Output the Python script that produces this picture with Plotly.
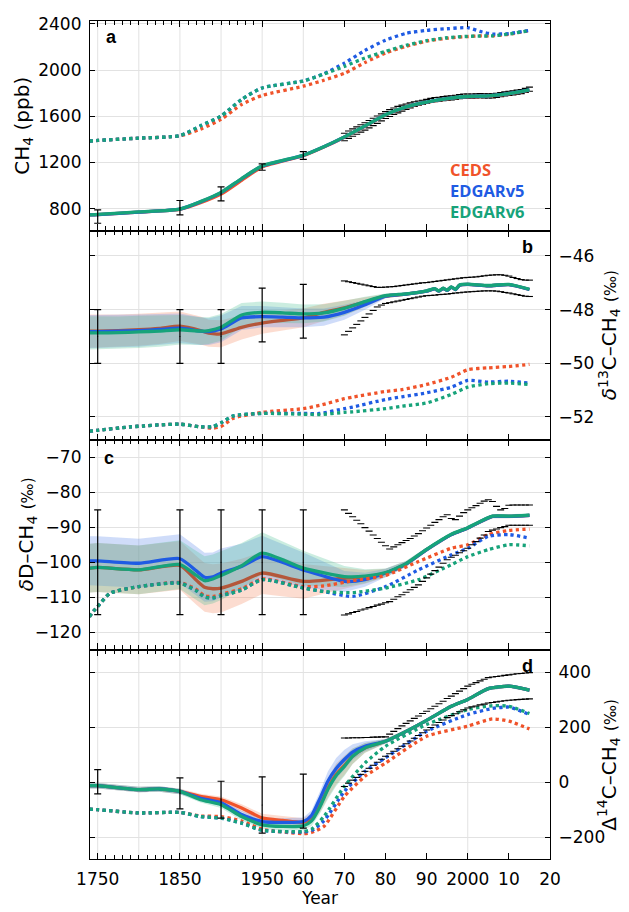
import numpy as np
import plotly.graph_objects as go
from plotly.subplots import make_subplots

# ---------------- data ----------------
TICK_YEARS = [1750, 1850, 1950, 1960, 1970, 1980, 1990, 2000, 2010, 2020]
TICK_TEXT = ["1750", "1850", "1950", "60", "70", "80", "90", "2000", "10", "20"]
MINOR_YEARS = [1760, 1770, 1780, 1790, 1800, 1810, 1820, 1830, 1840, 1860, 1870,
               1880, 1890, 1900, 1910, 1920, 1930, 1940]
VGRID_YEARS = [1750, 1800, 1850, 1900, 1950, 1960, 2000]

OBS_YRS = list(range(1970, 2016))
ERR_YRS = [1750, 1850, 1900, 1950, 1960]

# panel a : CH4 (ppb)
A_YRS = [1740, 1750, 1800, 1850, 1875, 1900, 1925, 1950, 1960, 1965, 1970, 1975,
         1980, 1985, 1990, 1995, 2000, 2005, 2010, 2015]
A_CEDS = [745, 748, 770, 793, 850, 925, 1045, 1160, 1258, 1333, 1418, 1513, 1610,
          1678, 1720, 1750, 1768, 1774, 1793, 1826]
A_V5 = [745, 748, 770, 795, 858, 938, 1058, 1168, 1261, 1335, 1420, 1515, 1612,
        1680, 1722, 1752, 1770, 1776, 1795, 1828]
A_V6 = [746, 749, 771, 796, 860, 940, 1060, 1170, 1262, 1336, 1421, 1516, 1613,
        1681, 1723, 1753, 1771, 1777, 1796, 1829]
A_DOT_YRS = [1740, 1750, 1800, 1850, 1875, 1900, 1925, 1950, 1960, 1965, 1970, 1975,
             1980, 1985, 1990, 1995, 2000, 2003, 2006, 2010, 2015]
A_DOT_CEDS = [1385, 1390, 1410, 1430, 1488, 1573, 1702, 1780, 1860, 1912, 1972, 2065,
              2148, 2205, 2250, 2276, 2290, 2296, 2296, 2310, 2342]
A_DOT_V5 = [1385, 1390, 1410, 1432, 1517, 1602, 1745, 1845, 1905, 1968, 2060, 2170,
            2259, 2318, 2344, 2358, 2367, 2335, 2312, 2316, 2344]
A_DOT_V6 = [1385, 1390, 1410, 1432, 1517, 1602, 1745, 1845, 1905, 1965, 2032, 2105,
            2162, 2215, 2255, 2280, 2292, 2295, 2296, 2312, 2342]
A_ERR_VAL = [731, 808, 927, 1160, 1260]
A_ERR_SIG = [58, 62, 61, 28, 34]
A_OBS = [1420, 1440, 1458, 1476, 1494, 1512, 1531, 1551, 1570, 1590,
         1610, 1627, 1643, 1657, 1670, 1682, 1694, 1705, 1714, 1721,
         1728, 1737, 1744, 1746, 1752, 1756, 1760, 1764, 1770, 1774,
         1774, 1775, 1776, 1778, 1777, 1776, 1776, 1781, 1787, 1793,
         1799, 1803, 1808, 1814, 1823, 1834]
A_OBS_UNC = [32, 32, 32, 32, 32, 32, 32, 32, 32, 30,
             30, 30, 28, 28, 26, 24, 22, 20, 18, 18,
             18, 18, 18, 18, 18, 18, 18, 18, 18, 18,
             18, 18, 18, 18, 18, 18, 18, 18, 18, 18,
             18, 18, 18, 18, 18, 18]

# panel b : d13C-CH4 (permil)
B_YRS = [1740, 1750, 1775, 1800, 1825, 1850, 1875, 1885, 1900, 1925, 1950, 1955, 1960,
         1965, 1970, 1975, 1980, 1985, 1990, 1992, 1993, 1994, 1995, 1996, 1997, 1998,
         2000, 2005, 2010, 2015]
B_V6 = [-48.87, -48.87, -48.86, -48.83, -48.80, -48.75, -48.80, -48.78, -48.66, -48.20,
        -48.10, -48.12, -48.16, -48.12, -47.95, -47.70, -47.48, -47.41, -47.30, -47.22,
        -47.30, -47.20, -47.27, -47.15, -47.24, -47.08, -47.05, -47.10, -47.06, -47.24]
B_V5 = [-48.82, -48.82, -48.80, -48.78, -48.74, -48.69, -48.80, -48.82, -48.72, -48.31,
        -48.26, -48.28, -48.31, -48.28, -48.10, -47.82, -47.50, -47.42, -47.31, -47.23,
        -47.31, -47.21, -47.28, -47.16, -47.25, -47.09, -47.06, -47.11, -47.07, -47.25]
B_CEDS = [-48.80, -48.80, -48.78, -48.75, -48.70, -48.62, -48.78, -48.88, -48.90, -48.66,
          -48.50, -48.40, -48.31, -48.10, -47.93, -47.72, -47.50, -47.42, -47.31, -47.23,
          -47.31, -47.21, -47.28, -47.16, -47.25, -47.09, -47.06, -47.11, -47.07, -47.25]
B_HW = [0.62, 0.62, 0.60, 0.60, 0.58, 0.55, 0.52, 0.50, 0.50, 0.45, 0.40, 0.38, 0.35,
        0.32, 0.28, 0.18, 0.08, 0.05, 0.04, 0.04, 0.04, 0.04, 0.04, 0.04, 0.04, 0.04,
        0.04, 0.04, 0.04, 0.04]
B_DOT_YRS = [1740, 1750, 1790, 1850, 1875, 1890, 1900, 1915, 1950, 1960, 1964, 1970,
             1972, 1980, 1984, 1990, 1996, 2000, 2005, 2010, 2015]
B_DOT_V6 = [-52.53, -52.50, -52.37, -52.27, -52.37, -52.36, -52.22, -51.96, -51.87,
            -51.90, -51.91, -51.83, -51.81, -51.69, -51.60, -51.48, -51.16, -50.89,
            -50.76, -50.74, -50.79]
B_DOT_V5 = [-52.53, -52.50, -52.37, -52.27, -52.37, -52.36, -52.22, -51.96, -51.87,
            -51.87, -51.87, -51.69, -51.63, -51.35, -51.25, -51.10, -50.89, -50.64,
            -50.70, -50.67, -50.74]
B_DOT_CEDS = [-52.53, -52.50, -52.37, -52.27, -52.37, -52.42, -52.36, -52.05, -51.83,
              -51.69, -51.57, -51.32, -51.26, -51.05, -50.98, -50.79, -50.52, -50.24,
              -50.17, -50.12, -50.04]
B_ERR_VAL = [-49.0, -49.0, -49.0, -48.2, -48.06]
B_ERR_SIG = [1.0, 1.0, 1.0, 1.0, 1.0]
B_OBS_HI = [-46.93, -46.96, -46.99, -47.02, -47.05, -47.08, -47.11, -47.14, -47.17, -47.17,
            -47.16, -47.15, -47.14, -47.12, -47.10, -47.08, -47.06, -47.04, -47.02, -47.00,
            -46.99, -46.97, -46.95, -46.93, -46.91, -46.89, -46.87, -46.85, -46.83, -46.81,
            -46.80, -46.79, -46.78, -46.76, -46.74, -46.72, -46.71, -46.70, -46.70, -46.72,
            -46.75, -46.80, -46.84, -46.88, -46.90, -46.90]
B_OBS_LO = [-48.94, -48.81, -48.68, -48.55, -48.42, -48.29, -48.16, -48.03, -47.90, -47.83,
            -47.77, -47.74, -47.71, -47.68, -47.65, -47.62, -47.59, -47.56, -47.53, -47.50,
            -47.48, -47.47, -47.46, -47.44, -47.43, -47.42, -47.40, -47.38, -47.37, -47.35,
            -47.34, -47.33, -47.32, -47.31, -47.30, -47.30, -47.30, -47.31, -47.33, -47.36,
            -47.38, -47.41, -47.44, -47.47, -47.50, -47.51]

# panel c : dD-CH4 (permil)
C_YRS = [1740, 1750, 1800, 1850, 1870, 1880, 1890, 1900, 1925, 1950, 1960, 1970, 1975,
         1980, 1985, 1990, 1996, 2000, 2006, 2010, 2015]
C_V5 = [-99.6, -99.6, -100.3, -99.0, -102.5, -104.3, -104.2, -103.1, -101.2, -98.4,
        -102.2, -105.5, -105.0, -103.1, -100.5, -96.4, -92.1, -90.2, -86.9, -86.9, -86.6]
C_V6 = [-101.7, -101.5, -102.2, -100.7, -103.8, -105.3, -104.8, -103.8, -101.0, -97.4,
        -101.7, -104.1, -104.0, -103.0, -100.4, -96.3, -92.0, -90.1, -86.8, -86.8, -86.5]
C_CEDS = [-101.7, -101.5, -102.2, -100.9, -105.2, -107.2, -107.6, -107.4, -105.5, -103.1,
          -105.5, -104.6, -104.2, -103.1, -100.5, -96.4, -92.1, -90.2, -86.9, -86.9, -86.6]
C_HW = [7.0, 7.0, 7.0, 7.0, 7.0, 7.0, 7.0, 7.0, 6.5, 6.0, 5.0, 3.0, 2.0, 1.2, 0.8, 0.6,
        0.5, 0.5, 0.5, 0.5, 0.5]
C_DOT_YRS = [1740, 1745, 1750, 1765, 1800, 1850, 1870, 1880, 1890, 1900, 1925, 1950,
             1960, 1965, 1972, 1980, 1988, 1996, 2000, 2005, 2010, 2015]
C_DOT_V5 = [-115.6, -114.0, -112.7, -108.9, -107.0, -106.0, -108.2, -110.0, -110.2,
            -109.6, -108.0, -105.0, -107.4, -108.4, -109.8, -107.0, -102.2, -97.9, -96.0,
            -92.6, -92.1, -93.1]
C_DOT_V6 = [-115.6, -114.0, -112.7, -108.9, -107.0, -106.0, -108.2, -110.0, -110.2,
            -109.6, -108.0, -105.0, -107.4, -108.4, -108.7, -107.4, -105.0, -100.7, -98.4,
            -96.4, -95.0, -95.3]
C_DOT_CEDS = [-115.6, -114.0, -112.7, -108.9, -107.0, -105.8, -107.8, -109.6, -109.8,
              -109.2, -107.6, -104.8, -107.0, -106.8, -105.3, -103.8, -99.8, -96.0, -95.0,
              -92.1, -90.9, -90.5]
C_ERR_VAL = [-100, -100, -100, -100, -100]
C_ERR_SIG = [15, 15, 15, 15, 15]
C_OBS_HI = [-85.0, -86.0, -87.0, -88.0, -89.0, -90.1, -91.1, -92.2, -93.2, -94.3,
            -95.3, -96.2, -95.6, -95.0, -94.4, -93.8, -93.2, -92.5, -91.8, -91.0,
            -90.2, -89.4, -88.6, -87.8, -87.0, -86.4, -87.5, -87.8, -86.8, -85.8,
            -85.0, -84.4, -83.8, -83.1, -82.5, -82.1, -82.6, -84.0, -85.0, -84.6,
            -83.7, -83.6, -83.6, -83.6, -83.6, -83.6]
C_OBS_LO = [-115.1, -114.8, -114.4, -114.1, -113.7, -113.4, -113.0, -112.7, -112.3, -112.0,
            -111.6, -111.3, -110.6, -109.9, -109.3, -108.6, -107.9, -107.2, -106.5, -105.5,
            -104.5, -103.4, -102.4, -101.4, -100.3, -99.3, -98.6, -98.0, -97.3, -96.7,
            -96.0, -95.0, -94.1, -93.1, -92.2, -91.2, -90.8, -90.5, -90.1, -89.8,
            -89.4, -89.4, -89.4, -89.4, -89.4, -89.4]

# panel d : D14C-CH4 (permil)
D_YRS = [1740, 1750, 1800, 1825, 1850, 1875, 1900, 1925, 1950, 1955, 1960, 1962, 1964,
         1966, 1968, 1970, 1972, 1975, 1980, 1985, 1990, 1996, 2000, 2005, 2010, 2015]
D_V6 = [-12, -12, -26, -24, -33, -63, -81, -124, -154, -160, -158, -140, -90, -25, 25,
        58, 95, 125, 149, 185, 225, 276, 301, 340, 349, 335]
D_V5 = [-12, -12, -26, -24, -33, -58, -74, -117, -142, -145, -142, -120, -60, 5, 50,
        83, 110, 131, 149, 185, 225, 276, 301, 340, 349, 335]
D_CEDS = [-12, -12, -26, -24, -33, -51, -63, -93, -129, -138, -145, -130, -85, -20, 30,
          62, 95, 125, 149, 185, 225, 276, 301, 340, 349, 335]
D_HW = [10, 10, 10, 10, 10, 10, 12, 14, 15, 15, 15, 18, 25, 35, 38, 35, 28, 18, 8, 7,
        6, 6, 6, 6, 6, 6]
D_DOT_YRS = [1740, 1750, 1800, 1850, 1875, 1900, 1925, 1950, 1960, 1962, 1965, 1970,
             1975, 1980, 1990, 2000, 2006, 2010, 2015]
D_DOT_V6 = [-97, -99, -111, -109, -124, -130, -148, -174, -178, -170, -124, -14, 70,
            131, 210, 264, 278, 276, 250]
D_DOT_V5 = [-97, -99, -111, -109, -124, -130, -148, -174, -180, -175, -140, -33, 40, 89,
            185, 246, 268, 273, 246]
D_DOT_CEDS = [-97, -99, -111, -109, -122, -124, -140, -170, -186, -182, -160, -51, 22,
              70, 167, 204, 230, 222, 194]
D_ERR_VAL = [2, -40, -63, -82, -68]
D_ERR_SIG = [44, 56, 67, 102, 98]
D_OBS_HI = [161, 161, 162, 162, 162, 163, 163, 164, 164, 165,
            165, 175, 185, 195, 205, 214, 223, 232, 241, 250,
            258, 267, 276, 285, 294, 304, 313, 322, 331, 340,
            349, 356, 362, 368, 374, 380, 382, 384, 386, 388,
            390, 392, 394, 395, 397, 398]
D_OBS_LO = [-15, -3, 8, 18, 29, 40, 51, 62, 73, 84,
            95, 104, 113, 122, 131, 140, 150, 160, 170, 180,
            190, 199, 208, 217, 226, 235, 242, 249, 256, 263,
            270, 274, 277, 281, 284, 288, 290, 292, 294, 296,
            298, 299, 300, 301, 302, 303]

# ---------------- styling ----------------
COL_CEDS = "#F0532A"
COL_CEDS_SOLID = "#B4573B"
COL_V5 = "#1F5BE3"
COL_V6 = "#17A37A"
BAND_CEDS = "rgba(245,140,100,0.30)"
BAND_V5 = "rgba(95,140,235,0.30)"
BAND_V6 = "rgba(70,190,145,0.28)"
GRID = "#E2E2E2"
FONT = "DejaVu Sans"
TICK_SIZE = 17
TITLE_SIZE = 20

# page body has an 8px default margin; the figure is sized so that the plot
# area lands on the reference's pixels (x 90-550, y 21-859)
FIG_W, FIG_H = 621, 904
M_L, M_R, M_T, M_B = 82, 79, 13, 53


def tx(years):
    y = np.asarray(years, dtype=float)
    return np.where(y < 1950, (y - 1950.0) / 5.0, y - 1950.0)


fig = make_subplots(rows=4, cols=1, shared_xaxes=True, vertical_spacing=0)


def band(row, yrs, vals, hw, color):
    x = tx(yrs)
    v = np.asarray(vals, float)
    h = np.asarray(hw, float)
    fig.add_trace(go.Scatter(x=np.concatenate([x, x[::-1]]),
                             y=np.concatenate([v + h, (v - h)[::-1]]),
                             fill="toself", fillcolor=color, mode="lines",
                             line=dict(width=0), hoverinfo="skip", showlegend=False),
                  row=row, col=1)


def line(row, yrs, vals, color, dash="solid", width=3.3):
    fig.add_trace(go.Scatter(x=tx(yrs), y=vals, mode="lines",
                             line=dict(color=color, width=width, dash=dash, shape="spline",
                                       smoothing=0.6),
                             showlegend=False), row=row, col=1)


def errbars(row, vals, sig):
    fig.add_trace(go.Scatter(x=tx(ERR_YRS), y=vals, mode="markers",
                             marker=dict(size=1, color="black"),
                             error_y=dict(type="data", array=sig, color="black",
                                          thickness=1.2, width=3.5),
                             showlegend=False), row=row, col=1)


def dashes(row, vals):
    fig.add_trace(go.Scatter(x=tx(OBS_YRS), y=vals, mode="markers",
                             marker=dict(symbol="line-ew", size=5, color="black",
                                         line=dict(color="black", width=1.1)),
                             showlegend=False), row=row, col=1)


# panel a
line(1, A_DOT_YRS, A_DOT_CEDS, COL_CEDS, "dot")
line(1, A_DOT_YRS, A_DOT_V5, COL_V5, "dot")
line(1, A_DOT_YRS, A_DOT_V6, COL_V6, "dot")
dashes(1, list(np.add(A_OBS, A_OBS_UNC)))
dashes(1, list(np.subtract(A_OBS, A_OBS_UNC)))
line(1, A_YRS, A_CEDS, COL_CEDS)
line(1, A_YRS, A_V5, COL_V5)
line(1, A_YRS, A_V6, COL_V6)
errbars(1, A_ERR_VAL, A_ERR_SIG)

# panel b
band(2, B_YRS, B_CEDS, B_HW, BAND_CEDS)
band(2, B_YRS, B_V5, B_HW, BAND_V5)
band(2, B_YRS, B_V6, B_HW, BAND_V6)
line(2, B_DOT_YRS, B_DOT_CEDS, COL_CEDS, "dot")
line(2, B_DOT_YRS, B_DOT_V5, COL_V5, "dot")
line(2, B_DOT_YRS, B_DOT_V6, COL_V6, "dot")
line(2, B_YRS, B_CEDS, COL_CEDS_SOLID)
line(2, B_YRS, B_V5, COL_V5)
line(2, B_YRS, B_V6, COL_V6)
dashes(2, B_OBS_HI)
dashes(2, B_OBS_LO)
errbars(2, B_ERR_VAL, B_ERR_SIG)

# panel c
band(3, C_YRS, C_CEDS, C_HW, BAND_CEDS)
band(3, C_YRS, C_V5, C_HW, BAND_V5)
band(3, C_YRS, C_V6, C_HW, BAND_V6)
line(3, C_YRS, C_CEDS, COL_CEDS_SOLID)
line(3, C_YRS, C_V5, COL_V5)
line(3, C_YRS, C_V6, COL_V6)
line(3, C_DOT_YRS, C_DOT_CEDS, COL_CEDS, "dot")
line(3, C_DOT_YRS, C_DOT_V5, COL_V5, "dot")
line(3, C_DOT_YRS, C_DOT_V6, COL_V6, "dot")
dashes(3, C_OBS_HI)
dashes(3, C_OBS_LO)
errbars(3, C_ERR_VAL, C_ERR_SIG)

# panel d
band(4, D_YRS, D_CEDS, D_HW, BAND_CEDS)
band(4, D_YRS, D_V5, D_HW, BAND_V5)
band(4, D_YRS, D_V6, D_HW, BAND_V6)
line(4, D_DOT_YRS, D_DOT_CEDS, COL_CEDS, "dot")
line(4, D_DOT_YRS, D_DOT_V5, COL_V5, "dot")
line(4, D_DOT_YRS, D_DOT_V6, COL_V6, "dot")
line(4, D_YRS, D_CEDS, COL_CEDS)
line(4, D_YRS, D_V5, COL_V5)
line(4, D_YRS, D_V6, COL_V6)
dashes(4, D_OBS_HI)
dashes(4, D_OBS_LO)
errbars(4, D_ERR_VAL, D_ERR_SIG)

# ---------------- axes ----------------
xcommon = dict(range=[-41.87, 70], tickvals=list(tx(TICK_YEARS)), ticktext=TICK_TEXT,
               ticks="inside", ticklen=6, tickwidth=1, tickcolor="black",
               showline=True, linecolor="black", linewidth=1.2, mirror="ticks",
               showgrid=False, zeroline=False, automargin=False,
               minor=dict(tickvals=list(tx(MINOR_YEARS)), ticks="inside", ticklen=4,
                          tickcolor="black", tickwidth=1, showgrid=False),
               tickfont=dict(family=FONT, size=TICK_SIZE, color="black"))
for i in range(1, 5):
    fig.update_xaxes(xcommon, row=i, col=1)
fig.update_xaxes(showticklabels=True, row=4, col=1, ticklabelstandoff=4,
                 title=dict(text="Year", font=dict(family=FONT, size=TICK_SIZE, color="black"),
                            standoff=1))

ycommon = dict(ticks="inside", ticklen=5, tickwidth=1, tickcolor="black",
               showline=True, linecolor="black", linewidth=1.2, mirror="ticks",
               showgrid=True, gridcolor=GRID, gridwidth=1, zeroline=False,
               automargin=False,
               tickfont=dict(family=FONT, size=TICK_SIZE, color="black"), ticklabelstandoff=4)
fig.update_yaxes(ycommon, row=1, col=1, range=[610, 2425],
                 tickvals=[800, 1200, 1600, 2000, 2400], side="left")
fig.update_yaxes(ycommon, row=2, col=1, range=[-52.86, -45.05],
                 tickvals=[-52, -50, -48, -46], side="right")
fig.update_yaxes(ycommon, row=3, col=1, range=[-125, -65],
                 tickvals=[-120, -110, -100, -90, -80, -70], side="left")
fig.update_yaxes(ycommon, row=4, col=1, range=[-278, 482],
                 tickvals=[-200, 0, 200, 400], side="right")

# vertical grid lines
shapes = []
for i, yname in enumerate(["y", "y2", "y3", "y4"]):
    xname = "x" if i == 0 else "x%d" % (i + 1)
    for yr in VGRID_YEARS:
        u = float(tx([yr])[0])
        shapes.append(dict(type="line", xref=xname, yref=yname + " domain", x0=u, x1=u,
                           y0=0, y1=1, line=dict(color=GRID, width=1), layer="below"))

PLOT_W = FIG_W - M_L - M_R
PLOT_H = FIG_H - M_T - M_B
annos = []
PM = "<span style='font-size:15px'>(‰)</span>"
for txt, yr, xx, yy, shift in [
        ("CH<sub>4</sub> (ppb)", "y domain", 0, 0.5, -67),
        ("<i>δ</i><sup>13</sup>C–CH<sub>4</sub> " + PM, "y2 domain", 1, 0.5, 59),
        ("<i>δ</i>D–CH<sub>4</sub> " + PM, "y3 domain", 0, 0.55, -63),
        ("Δ<sup>14</sup>C–CH<sub>4</sub> " + PM, "y4 domain", 1, 0.45, 59)]:
    annos.append(dict(text=txt, xref="paper", yref=yr, x=xx, y=yy, xshift=shift,
                      xanchor="center", yanchor="middle", textangle=-90, showarrow=False,
                      font=dict(family=FONT, size=TITLE_SIZE, color="black")))

for lab, xr, yr, xx, yy, anc in [("a", "x domain", "y domain", 0.03, 0.925, "left"),
                                 ("b", "x2 domain", "y2 domain", 0.968, 0.921, "right"),
                                 ("c", "x3 domain", "y3 domain", 0.025, 0.916, "left"),
                                 ("d", "x4 domain", "y4 domain", 0.968, 0.92, "right")]:
    annos.append(dict(text="<b>%s</b>" % lab, xref=xr, yref=yr, x=xx, y=yy, xanchor=anc,
                      yanchor="middle", showarrow=False,
                      font=dict(family="Liberation Sans", size=18, color="black")))

for txt, col, py in [("CEDS", COL_CEDS, 169.0), ("EDGARv5", COL_V5, 190.0),
                     ("EDGARv6", COL_V6, 211.0)]:
    annos.append(dict(text="<b>%s</b>" % txt, xref="paper", yref="paper",
                      x=(448 - 90) / float(PLOT_W), y=(859.0 - py) / float(PLOT_H),
                      xanchor="left", yanchor="middle", showarrow=False,
                      font=dict(family="Open Sans", size=16.5, color=col)))

fig.update_layout(width=FIG_W, height=FIG_H,
                  margin=dict(l=M_L, r=M_R, t=M_T, b=M_B),
                  paper_bgcolor="white", plot_bgcolor="white", showlegend=False,
                  shapes=shapes, annotations=annos,
                  font=dict(family=FONT, size=TICK_SIZE, color="black"))

fig.write_html("out.html")
